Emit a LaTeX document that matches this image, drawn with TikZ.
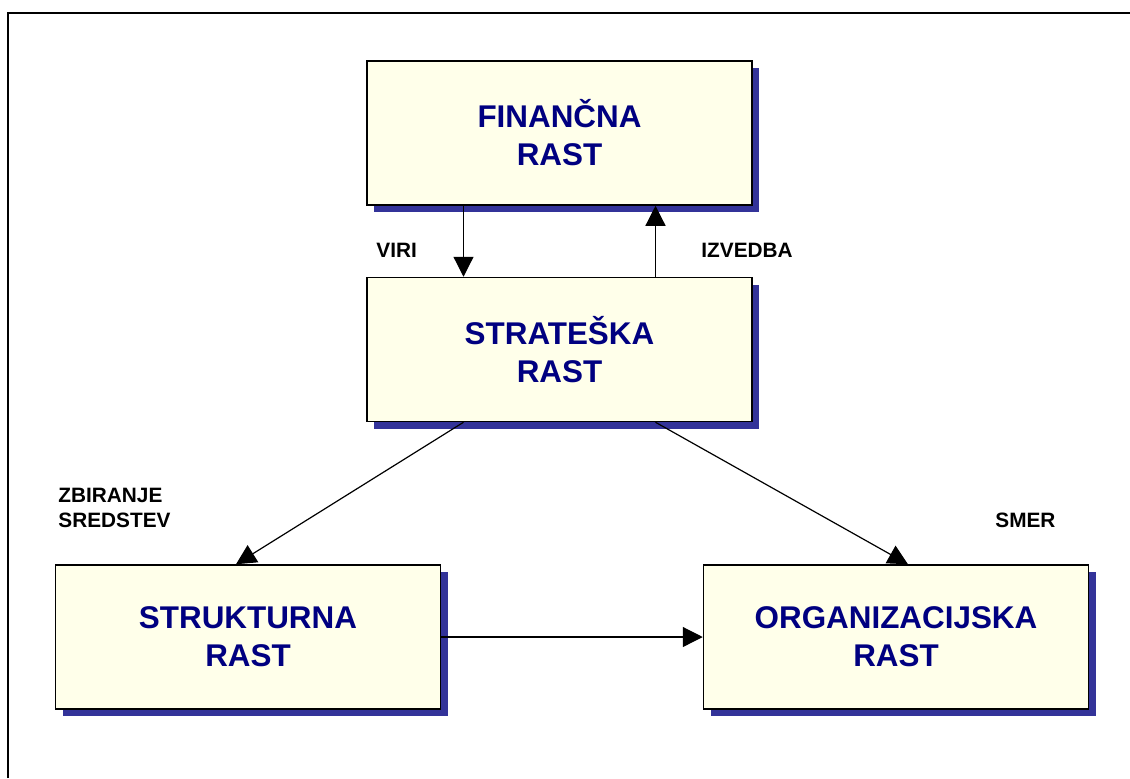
\documentclass[tikz,border=0pt]{standalone}
\usepackage{fontspec}
\setmainfont{Liberation Sans}
\usetikzlibrary{arrows.meta,shadows}
\definecolor{ozadje}{RGB}{255,255,234}
\definecolor{senca}{RGB}{51,51,153}
\definecolor{besedilo}{RGB}{0,0,128}
\tikzset{
  skatla/.style={draw=black, line width=0.75pt, fill=ozadje, minimum width=192.5pt,
    minimum height=72pt, inner sep=0pt, align=center, text=besedilo,
    font=\bfseries\fontsize{15.7}{19}\selectfont,
    general shadow={fill=senca, shadow xshift=3.5pt, shadow yshift=-3.5pt}},
  puscica/.style={-{Triangle[width=10pt,length=10pt]}, line width=0.6pt},
  oznaka/.style={anchor=west, align=left, inner sep=0pt,
    font=\bfseries\fontsize{10.4}{12.5}\selectfont}
}
\begin{document}
\begin{tikzpicture}[x=0.5pt, y=-0.5pt]
    \useasboundingbox (0,0) rectangle (1130,778);
    % Okvir
    \draw[line width=1pt] (7.5,778) -- (7.5,13) -- (1130,13);

    % Skatle
    \node[skatla] (fin) at (559.5,133) {FINANČNA\\RAST};
    \node[skatla] (strat) at (559.5,349.5) {STRATEŠKA\\RAST};
    \node[skatla] (struk) at (248,637) {STRUKTURNA\\RAST};
    \node[skatla] (org) at (896,637) {ORGANIZACIJSKA\\RAST};

    % Puscice
    \draw[puscica] ([xshift=-48pt]fin.south) -- ([xshift=-48pt]strat.north);
    \draw[puscica] ([xshift=48pt]strat.north) -- ([xshift=48pt]fin.south);
    \draw[puscica] ([xshift=-48pt]strat.south) -- ([xshift=-6pt]struk.north);
    \draw[puscica] ([xshift=48pt]strat.south) -- ([xshift=6pt]org.north);
    \draw[puscica] (struk.east) -- (org.west);

    % Oznake
    \node[oznaka] (viri) at (376,250) {VIRI};
    \node[oznaka] (izvedba) at (701,250) {IZVEDBA};
    \node[oznaka] (zbiranje) at (58,507.5) {ZBIRANJE\\SREDSTEV};
    \node[oznaka] (smer) at (995,520) {SMER};
\end{tikzpicture}
\end{document}
